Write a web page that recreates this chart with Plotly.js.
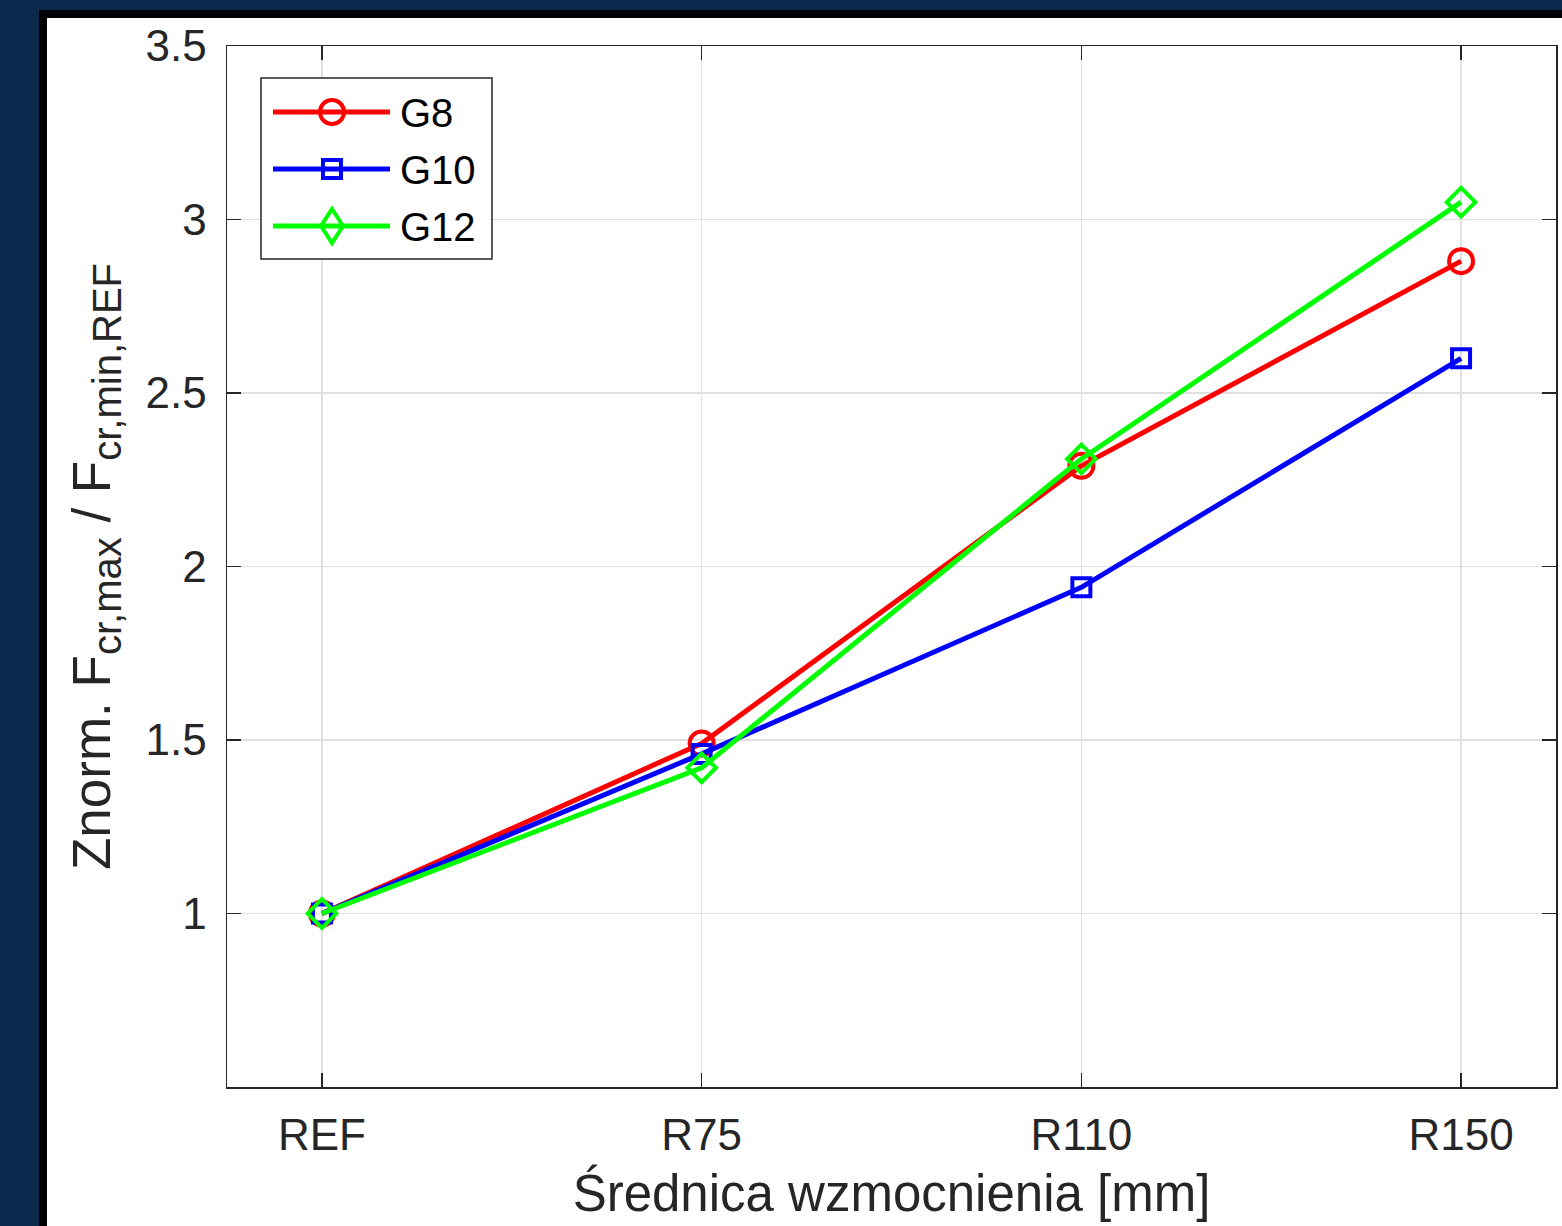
<!DOCTYPE html>
<html>
<head>
<meta charset="utf-8">
<script src="https://cdn.plot.ly/plotly-3.0.1.min.js"></script>
<style>
  html, body { margin: 0; padding: 0; width: 1562px; height: 1226px; overflow: hidden; background: #0b294d; }
  #frame { position: absolute; left: 39px; top: 10px; width: 1600px; height: 1300px; background: #000; }
  #chart { position: absolute; left: 47px; top: 18px; width: 1515px; height: 1208px; background: #fff; }
</style>
</head>
<body>
<div id="frame"></div>
<div id="chart"></div>
<script>
// Reinforcement diameter variants
const categories = ['REF', 'R75', 'R110', 'R150'];

// Normalised F_cr,max / F_cr,min,REF per girder
const seriesNames = ['G8', 'G10', 'G12'];
const g8  = [1.00, 1.49, 2.29, 2.88];
const g10 = [1.00, 1.46, 1.94, 2.60];
const g12 = [1.00, 1.42, 2.31, 3.05];

const yTicks = [1, 1.5, 2, 2.5, 3, 3.5];
const yTickText = ['1', '1.5', '2', '2.5', '3', '3.5'];

const colors = ['#ff0000', '#0000ff', '#00ff00'];
const symbols = ['circle-open', 'square-open', 'diamond-open'];
const sizes = [24, 18, 22];
const seriesValues = [g8, g10, g12];

const FONT = '"Liberation Sans", Arial, Helvetica, sans-serif';
const INK = '#262626';

// Chart geometry (pixels inside #chart)
const W = 1515, H = 1208;
const M = { l: 180, t: 28, r: 6, b: 139 };
const PW = W - M.l - M.r, PH = H - M.t - M.b;
const OX = 47, OY = 18; // offset of #chart within the page

// page pixel -> paper coordinates
const px = x => (x - OX - M.l) / PW;
const py = y => 1 - (y - OY - M.t) / PH;

const traces = seriesValues.map((vals, i) => ({
  type: 'scatter',
  mode: 'lines+markers',
  name: seriesNames[i],
  x: categories,
  y: vals,
  line: { color: colors[i], width: 5 },
  marker: { symbol: symbols[i], size: sizes[i], color: colors[i], line: { width: 4, color: colors[i] } },
  showlegend: false
}));

// Legend box drawn with shapes
const shapes = [];
const annotations = [];
const LX0 = 261, LX1 = 492, LY0 = 78, LY1 = 259;
shapes.push({ type: 'rect', xref: 'paper', yref: 'paper', x0: px(LX0), x1: px(LX1), y0: py(LY1), y1: py(LY0),
  line: { color: INK, width: 1.5 }, fillcolor: '#ffffff', layer: 'above' });
const rowY = [112, 169, 226];
const lineX0 = 273, lineX1 = 390, mx = 332;
seriesNames.forEach((name, i) => {
  const y = rowY[i];
  shapes.push({ type: 'line', xref: 'paper', yref: 'paper', x0: px(lineX0), x1: px(lineX1), y0: py(y), y1: py(y),
    line: { color: colors[i], width: 5 }, layer: 'above' });
  let mk;
  if (i === 0) {
    mk = { type: 'circle', x0: px(mx - 12), x1: px(mx + 12), y0: py(y + 12), y1: py(y - 12) };
  } else if (i === 1) {
    mk = { type: 'rect', x0: px(mx - 9), x1: px(mx + 9), y0: py(y + 9), y1: py(y - 9) };
  } else {
    mk = { type: 'path', path: `M ${px(mx)} ${py(y - 17)} L ${px(mx + 11)} ${py(y)} L ${px(mx)} ${py(y + 17)} L ${px(mx - 11)} ${py(y)} Z` };
  }
  shapes.push(Object.assign(mk, { xref: 'paper', yref: 'paper', line: { color: colors[i], width: 4 }, fillcolor: 'rgba(0,0,0,0)', layer: 'above' }));
  annotations.push({ xref: 'paper', yref: 'paper', x: px(398), y: py(y + 1), xanchor: 'left', yanchor: 'middle',
    text: name, showarrow: false, font: { family: FONT, size: 40, color: '#000' } });
});

const axisCommon = {
  showline: true, linecolor: INK, linewidth: 1.5, mirror: 'ticks',
  ticks: 'inside', ticklen: 14, tickwidth: 1.5, tickcolor: INK,
  showgrid: true, gridcolor: '#e0e0e0', gridwidth: 1.5, zeroline: false,
  tickfont: { family: FONT, size: 44, color: INK }
};

const sub = s => `<sub><span style="font-size:40px">${s}</span></sub>`;

const layout = {
  width: W, height: H,
  margin: M,
  paper_bgcolor: 'rgba(0,0,0,0)',
  plot_bgcolor: '#ffffff',
  showlegend: false,
  xaxis: Object.assign({}, axisCommon, {
    type: 'category', categoryorder: 'array', categoryarray: categories,
    range: [-0.25, 3.25], ticklabelstandoff: 9,
    title: { text: 'Średnica wzmocnienia [mm]', font: { family: FONT, size: 51, color: INK }, standoff: 17 }
  }),
  yaxis: Object.assign({}, axisCommon, {
    range: [0.5, 3.5], tickvals: yTicks, ticktext: yTickText, ticklabelstandoff: 10,
    title: { text: 'Znorm. F' + sub('cr,max') + ' / F' + sub('cr,min,REF'), font: { family: FONT, size: 53, color: INK }, standoff: 18 }
  }),
  shapes: shapes,
  annotations: annotations
};

Plotly.newPlot('chart', traces, layout, { displayModeBar: false, staticPlot: true });
</script>
</body>
</html>
